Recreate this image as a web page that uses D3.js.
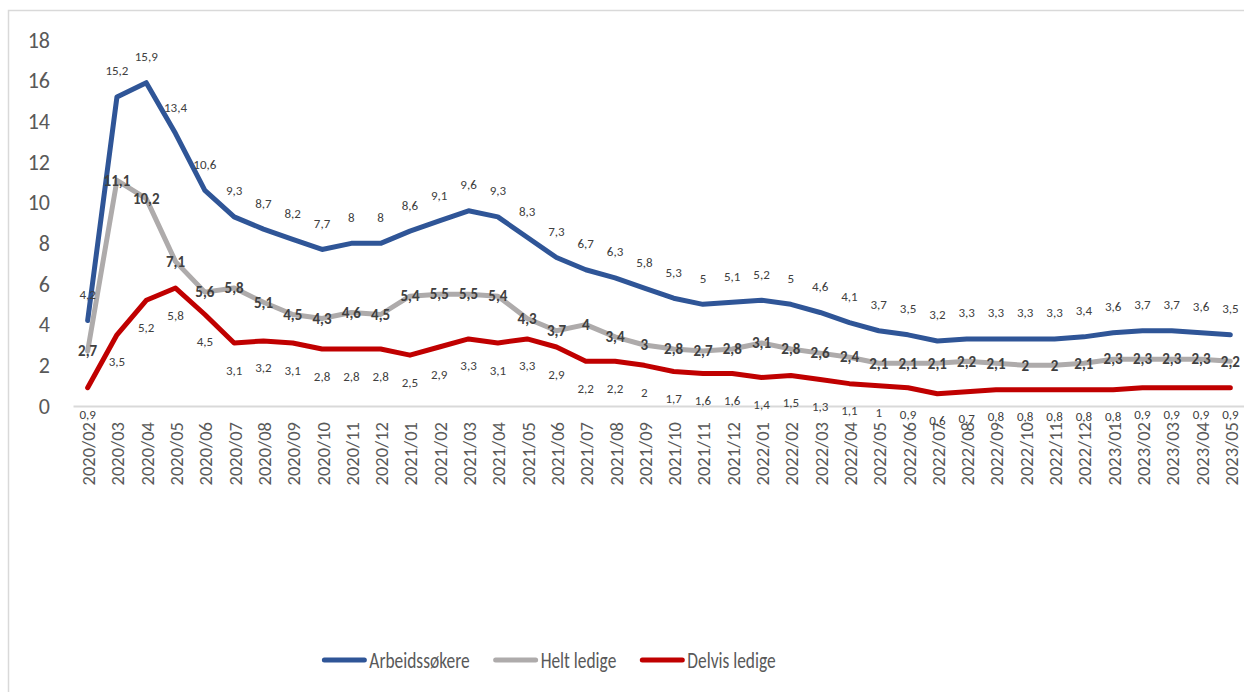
<!DOCTYPE html>
<html>
<head>
<meta charset="utf-8">
<script src="https://cdn.jsdelivr.net/npm/d3@7"></script>
<style>
  html, body { margin: 0; padding: 0; background: #fff; }
  svg { display: block; font-family: Carlito, Calibri, sans-serif; }
</style>
</head>
<body>
<svg id="chart" width="1244" height="692"></svg>
<script>
"use strict";

// months on the x axis
const months = [
    "2020/02", "2020/03", "2020/04", "2020/05", "2020/06", "2020/07", "2020/08", "2020/09", "2020/10", "2020/11", "2020/12",
    "2021/01", "2021/02", "2021/03", "2021/04", "2021/05", "2021/06", "2021/07", "2021/08", "2021/09", "2021/10", "2021/11", "2021/12",
    "2022/01", "2022/02", "2022/03", "2022/04", "2022/05", "2022/06", "2022/07", "2022/08", "2022/09", "2022/10", "2022/11", "2022/12",
    "2023/01", "2023/02", "2023/03", "2023/04", "2023/05"
];

const arbeidssokere = [
    4.2, 15.2, 15.9, 13.4, 10.6, 9.3, 8.7, 8.2, 7.7, 8, 8,
    8.6, 9.1, 9.6, 9.3, 8.3, 7.3, 6.7, 6.3, 5.8, 5.3, 5, 5.1,
    5.2, 5, 4.6, 4.1, 3.7, 3.5, 3.2, 3.3, 3.3, 3.3, 3.3, 3.4,
    3.6, 3.7, 3.7, 3.6, 3.5
];

const heltLedige = [
    2.7, 11.1, 10.2, 7.1, 5.6, 5.8, 5.1, 4.5, 4.3, 4.6, 4.5,
    5.4, 5.5, 5.5, 5.4, 4.3, 3.7, 4, 3.4, 3, 2.8, 2.7, 2.8,
    3.1, 2.8, 2.6, 2.4, 2.1, 2.1, 2.1, 2.2, 2.1, 2, 2, 2.1,
    2.3, 2.3, 2.3, 2.3, 2.2
];

const delvisLedige = [
    0.9, 3.5, 5.2, 5.8, 4.5, 3.1, 3.2, 3.1, 2.8, 2.8, 2.8,
    2.5, 2.9, 3.3, 3.1, 3.3, 2.9, 2.2, 2.2, 2, 1.7, 1.6, 1.6,
    1.4, 1.5, 1.3, 1.1, 1, 0.9, 0.6, 0.7, 0.8, 0.8, 0.8, 0.8,
    0.8, 0.9, 0.9, 0.9, 0.9
];

const yTicks = [0, 2, 4, 6, 8, 10, 12, 14, 16, 18];

const seriesNames = ["Arbeidssøkere", "Helt ledige", "Delvis ledige"];

const series = [
    { name: seriesNames[0], values: arbeidssokere, color: "#2F5597", labelDy: -26, bold: false },
    { name: seriesNames[1], values: heltLedige, color: "#AEABAB", labelDy: 0, bold: true },
    { name: seriesNames[2], values: delvisLedige, color: "#C00000", labelDy: 27, bold: false }
];

const svg = d3.select("#chart");
const fmt = (v) => String(v).replace(".", ",");

// chart area border (only top and left visible in the frame)
svg.append("rect")
    .attr("x", 8.5)
    .attr("y", 10.5)
    .attr("width", 1260)
    .attr("height", 700)
    .attr("fill", "none")
    .attr("stroke", "#D9D9D9")
    .attr("stroke-width", 1.5);

const x = d3.scaleBand().domain(months).range([73, 1245]);
const y = d3.scaleLinear().domain([0, 18]).range([406, 40]);
const cx = (m) => x(m) + x.bandwidth() / 2;

// y axis, no line, only labels
const yAxis = svg.append("g")
    .attr("transform", "translate(52,0)")
    .call(d3.axisLeft(y).tickValues(yTicks).tickSize(0).tickPadding(2));
yAxis.select(".domain").remove();
yAxis.selectAll("text")
    .attr("font-size", 22)
    .attr("font-family", "Carlito, Calibri, sans-serif")
    .attr("fill", "#595959");

// x axis with rotated month labels
const xAxis = svg.append("g")
    .attr("transform", `translate(0,${y(0)})`)
    .call(d3.axisBottom(x).tickSize(0).tickSizeOuter(0));
xAxis.select(".domain")
    .attr("stroke", "#D9D9D9")
    .attr("stroke-width", 2);
xAxis.selectAll("text")
    .attr("transform", "rotate(-90)")
    .attr("x", -16)
    .attr("y", 1)
    .attr("dy", "0.35em")
    .attr("text-anchor", "end")
    .attr("font-size", 18.5)
    .attr("font-family", "Carlito, Calibri, sans-serif")
    .attr("fill", "#595959");

// straight line segments between months
const line = d3.line()
    .x((d) => cx(d.m))
    .y((d) => y(d.v));

const lineGroup = svg.append("g");
series.forEach((s) => {
    lineGroup.append("path")
        .datum(s.values.map((v, i) => ({ m: months[i], v })))
        .attr("d", line)
        .attr("fill", "none")
        .attr("stroke", s.color)
        .attr("stroke-width", 5)
        .attr("stroke-linecap", "round")
        .attr("stroke-linejoin", "round");
});

// data labels
const labelGroup = svg.append("g");
series.forEach((s) => {
    labelGroup.append("g")
        .selectAll("text")
        .data(s.values)
        .join("text")
        .attr("x", (d, i) => cx(months[i]))
        .attr("y", (d) => y(d) + s.labelDy)
        .attr("dy", "0.35em")
        .attr("text-anchor", "middle")
        .attr("font-size", s.bold ? 15 : 13)
        .attr("font-weight", s.bold ? "bold" : "normal")
        .attr("fill", "#404040")
        .text(fmt);
});

// legend, centred under the plot; text is a bit squeezed sideways like the original
const squeeze = 0.79;
const legend = svg.append("g").attr("transform", "translate(0,660)");
const items = legend.selectAll("g")
    .data(series)
    .join("g");
items.append("line")
    .attr("x1", 0)
    .attr("x2", 40)
    .attr("stroke", (d) => d.color)
    .attr("stroke-width", 5)
    .attr("stroke-linecap", "round");

const widths = [];
items.append("text")
    .attr("x", 45)
    .attr("dy", "0.35em")
    .attr("font-size", 22)
    .attr("fill", "#595959")
    .text((d) => d.name)
    .each(function() {
        const w = this.getComputedTextLength() * squeeze;
        widths.push(45 + w);
        d3.select(this)
            .attr("textLength", w)
            .attr("lengthAdjust", "spacingAndGlyphs");
    });

const gap = 26;
const total = d3.sum(widths) + gap * (widths.length - 1);
const start = 550 - total / 2;
let offset = 0;
items.attr("transform", (d, i) => {
    const t = `translate(${start + offset},0)`;
    offset += widths[i] + gap;
    return t;
});
</script>
</body>
</html>
